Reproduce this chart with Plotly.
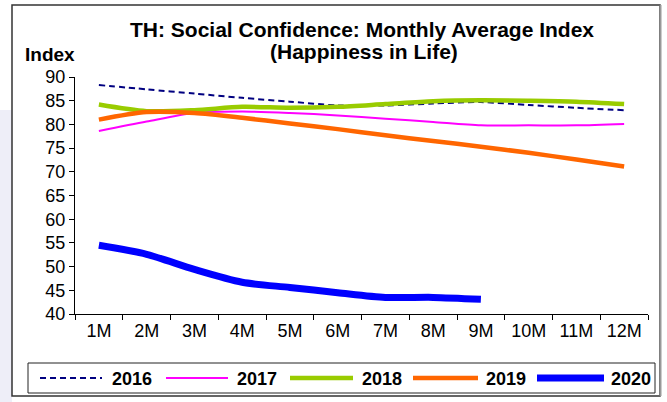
import plotly.graph_objects as go

months = ["1M", "2M", "3M", "4M", "5M", "6M", "7M", "8M", "9M", "10M", "11M", "12M"]
y2016 = [88.3, 87.4, 86.5, 85.6, 84.8, 84.0, 84.0, 84.4, 84.7, 84.1, 83.5, 83.0]
y2017 = [78.6, 80.6, 82.4, 82.7, 82.4, 81.9, 81.2, 80.5, 79.8, 79.8, 79.8, 80.1]
y2018 = [84.2, 82.8, 83.0, 83.7, 83.5, 83.7, 84.3, 84.9, 85.1, 85.0, 84.8, 84.3]
y2019 = [81.0, 82.6, 82.4, 81.4, 80.2, 79.0, 77.7, 76.5, 75.3, 74.0, 72.6, 71.1]
y2020 = [54.5, 52.6, 49.4, 46.7, 45.6, 44.5, 43.5, 43.5, 43.1]

FONT = "Liberation Sans, Arial, sans-serif"

series = [
    ("2016", y2016, "#000080", 2, "6px,4px"),
    ("2017", y2017, "#ff00ff", 2, "solid"),
    ("2018", y2018, "#99cc00", 4.5, "solid"),
    ("2019", y2019, "#ff6600", 4.5, "solid"),
    ("2020", y2020, "#0000ff", 7, "solid"),
]

# plot area in pixels: x 75..648, y 77..314
L, R, T, B = 75, 648, 77, 314
def px(p):
    return (p - L) / (R - L)
def py(p):
    return (B - p) / (B - T)

fig = go.Figure()
for name, vals, color, width, dash in series:
    fig.add_trace(go.Scatter(
        x=months[:len(vals)], y=vals, name=name, mode="lines", showlegend=False,
        line=dict(color=color, width=width, dash=dash, shape="spline", smoothing=0.8),
    ))

shapes = [
    # lavender strip at the lower left outside the frame
    dict(type="rect", xref="paper", yref="paper", x0=px(0), x1=px(12), y0=py(402), y1=py(110),
         line=dict(width=0), fillcolor="#eeeef8", layer="below"),
    # chart frame
    dict(type="rect", xref="paper", yref="paper", x0=px(12), x1=px(660), y0=py(396), y1=py(5),
         line=dict(color="#333333", width=1.5), fillcolor="white", layer="below"),
    dict(type="line", xref="paper", yref="paper", x0=px(660.5), x1=px(660.5), y0=py(396), y1=py(5),
         line=dict(color="#999999", width=2), layer="below"),
    # legend box
    dict(type="rect", xref="paper", yref="paper", x0=px(28), x1=px(655), y0=py(393), y1=py(363),
         line=dict(color="#222222", width=1), fillcolor="white", layer="above"),
]
legend_pos = [(40, 102, 110), (166, 228, 235), (290, 353, 360), (413, 478, 484), (537, 604, 609)]
annotations = []
for (name, vals, color, width, dash), (lx0, lx1, tx) in zip(series, legend_pos):
    shapes.append(dict(
        type="line", xref="paper", yref="paper", x0=px(lx0), x1=px(lx1), y0=py(378), y1=py(378),
        line=dict(color=color, width=width, dash=dash), layer="above",
    ))
    annotations.append(dict(
        text="<b>" + name + "</b>", xref="paper", yref="paper", x=px(tx), y=py(379),
        xanchor="left", yanchor="middle", showarrow=False,
        font=dict(family=FONT, size=18, color="black"),
    ))

annotations += [
    dict(text="<b>TH: Social Confidence: Monthly Average Index</b>", xref="paper", yref="paper",
         x=px(362), y=py(30), xanchor="center", yanchor="middle", showarrow=False,
         font=dict(family=FONT, size=21, color="black")),
    dict(text="<b>(Happiness in Life)</b>", xref="paper", yref="paper",
         x=px(364), y=py(52), xanchor="center", yanchor="middle", showarrow=False,
         font=dict(family=FONT, size=21, color="black")),
    dict(text="<b>Index</b>", xref="paper", yref="paper", x=px(49.5), y=py(54),
         xanchor="center", yanchor="middle", showarrow=False,
         font=dict(family=FONT, size=19, color="black")),
]

fig.update_layout(
    width=667, height=402,
    margin=dict(l=L, r=667 - R, t=T, b=402 - B, autoexpand=False),
    paper_bgcolor="white",
    plot_bgcolor="white",
    font=dict(family=FONT, size=18, color="black"),
    xaxis=dict(
        type="category", range=[-0.5, 11.5], showline=True, linecolor="black", linewidth=1,
        ticks="outside", tickson="boundaries", ticklen=5, tickcolor="black",
        showgrid=False, zeroline=False, tickfont=dict(size=18),
    ),
    yaxis=dict(
        range=[40, 90], dtick=5, showline=True, linecolor="black", linewidth=1,
        ticks="outside", ticklen=5, tickcolor="black", showgrid=False, zeroline=False,
        tickfont=dict(size=18),
    ),
    showlegend=False,
    annotations=annotations,
    shapes=shapes,
)

fig.write_html(
    "out.html",
    config={"displayModeBar": False},
    post_script="document.body.style.margin='0';document.body.style.overflow='hidden';",
)
